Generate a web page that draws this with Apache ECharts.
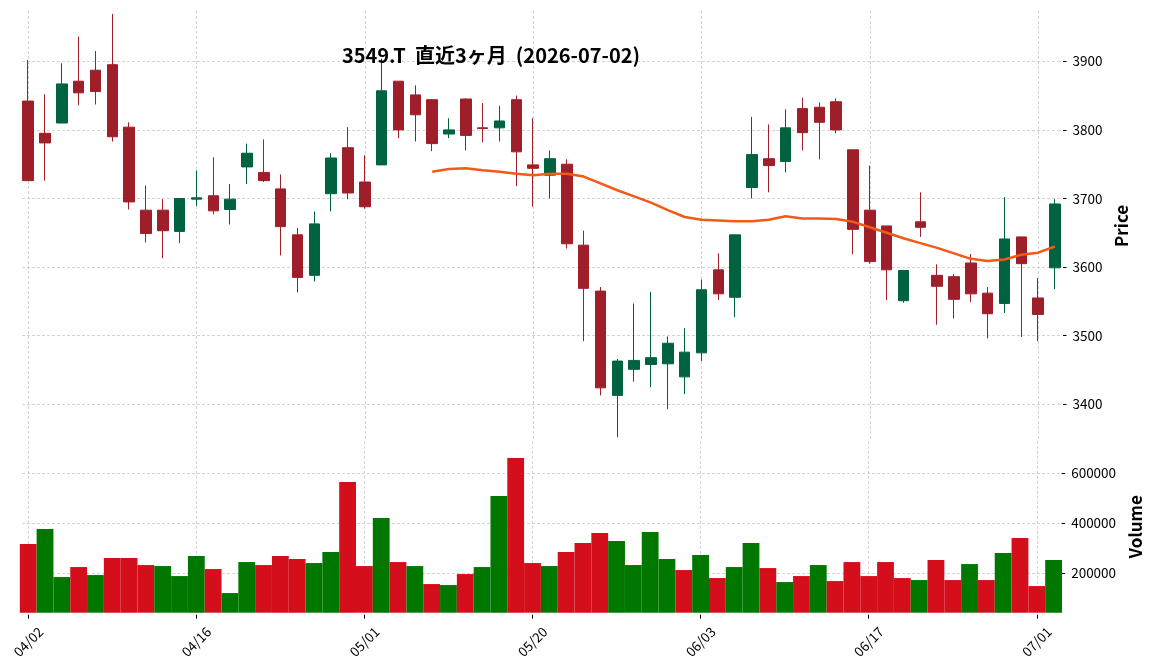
<!DOCTYPE html>
<html>
<head>
<meta charset="utf-8">
<script src="https://cdn.jsdelivr.net/npm/echarts@6/dist/echarts.min.js"></script>
<style>
  html, body { margin: 0; padding: 0; background: #fff; }
  #main { width: 1152px; height: 670px; }
</style>
</head>
<body>
<div id="main"></div>
<script>
const dates = ['04/02', '04/03', '04/06', '04/07', '04/08', '04/09', '04/10', '04/13', '04/14', '04/15',
  '04/16', '04/17', '04/20', '04/21', '04/22', '04/23', '04/24', '04/27', '04/28', '04/30',
  '05/01', '05/07', '05/08', '05/11', '05/12', '05/13', '05/14', '05/15', '05/18', '05/19',
  '05/20', '05/21', '05/22', '05/25', '05/26', '05/27', '05/28', '05/29', '06/01', '06/02',
  '06/03', '06/04', '06/05', '06/08', '06/09', '06/10', '06/11', '06/12', '06/15', '06/16',
  '06/17', '06/18', '06/19', '06/22', '06/23', '06/24', '06/25', '06/26', '06/29', '06/30',
  '07/01', '07/02']

const opens = [3842, 3795, 3810, 3871, 3887, 3895, 3804, 3683, 3683, 3652,
  3699, 3704, 3684, 3746, 3738, 3714, 3647, 3588, 3707, 3774,
  3724, 3749, 3871, 3851, 3844, 3794, 3845, 3803, 3803, 3844,
  3749, 3734, 3750, 3632, 3565, 3413, 3451, 3458, 3459, 3440,
  3475, 3596, 3556, 3716, 3758, 3754, 3831, 3833, 3841, 3771,
  3683, 3660, 3551, 3666, 3588, 3586, 3606, 3562, 3547, 3644,
  3555, 3599]
const closes = [3726, 3781, 3867, 3854, 3856, 3790, 3695, 3649, 3653, 3700,
  3701, 3682, 3699, 3766, 3726, 3659, 3585, 3663, 3759, 3708,
  3688, 3857, 3800, 3822, 3780, 3800, 3792, 3802, 3813, 3768,
  3744, 3758, 3634, 3569, 3424, 3463, 3464, 3468, 3489, 3476,
  3567, 3561, 3647, 3764, 3748, 3803, 3796, 3811, 3800, 3655,
  3608, 3596, 3595, 3658, 3572, 3553, 3561, 3532, 3641, 3605,
  3531, 3692]
const lows = [3726, 3726, 3810, 3836, 3837, 3783, 3684, 3636, 3613, 3635,
  3689, 3677, 3662, 3721, 3724, 3617, 3563, 3579, 3681, 3699,
  3685, 3749, 3788, 3783, 3769, 3788, 3770, 3782, 3783, 3718,
  3688, 3700, 3627, 3492, 3413, 3352, 3433, 3425, 3393, 3415,
  3463, 3552, 3527, 3700, 3709, 3738, 3770, 3757, 3795, 3619,
  3605, 3552, 3548, 3644, 3516, 3525, 3549, 3496, 3533, 3498,
  3492, 3568]
const highs = [3902, 3852, 3897, 3936, 3915, 3969, 3811, 3719, 3699, 3700,
  3741, 3760, 3721, 3780, 3786, 3735, 3657, 3681, 3766, 3804,
  3763, 3904, 3871, 3865, 3845, 3817, 3846, 3839, 3835, 3850,
  3817, 3770, 3757, 3653, 3571, 3466, 3547, 3564, 3499, 3511,
  3582, 3620, 3647, 3819, 3808, 3830, 3847, 3840, 3846, 3771,
  3748, 3660, 3596, 3709, 3604, 3590, 3619, 3571, 3702, 3644,
  3584, 3699]
const volumes = [317000, 377000, 185000, 225000, 193000, 261000, 261000, 233000, 229000, 189000,
  269000, 217000, 121000, 245000, 233000, 269000, 257000, 241000, 285000, 565000,
  229000, 421000, 245000, 229000, 157000, 153000, 197000, 225000, 509000, 661000,
  241000, 229000, 285000, 321000, 361000, 329000, 233000, 365000, 257000, 213000,
  273000, 181000, 225000, 321000, 221000, 165000, 189000, 233000, 169000, 245000,
  189000, 245000, 181000, 173000, 253000, 173000, 237000, 173000, 281000, 341000,
  149000, 253000]
// 25-day moving average, starts on day 25
const ma25 = [null, null, null, null, null, null, null, null, null, null,
  null, null, null, null, null, null, null, null, null, null,
  null, null, null, null, 3739, 3743, 3744, 3741, 3739, 3736,
  3734, 3736, 3736, 3732, 3722, 3712, 3703, 3694, 3683, 3673,
  3669, 3668, 3667, 3667, 3669, 3674, 3671, 3671, 3670, 3666,
  3658, 3650, 3642, 3635, 3628, 3620, 3612, 3609, 3611, 3618,
  3621, 3630]

const xTicks = [0, 10, 20, 30, 40, 50, 60]
const priceTicks = [3400, 3500, 3600, 3700, 3800, 3900]
const volumeTicks = [200000, 400000, 600000]

const font = 'Noto Sans CJK JP'
const upColor = '#006340'
const downColor = '#9e1f2a'
const volUp = '#007800'
const volDown = '#d40f1b'

const gridLine = { show: true, lineStyle: { color: '#c8c8c8', type: [3, 2], width: 0.8 } }
const noAxisLine = { show: false, onZero: false }
const tickLabel = { margin: 9.5, fontSize: 13.5, color: '#000', fontFamily: font, formatter: v => String(v) }
const axisName = { fontSize: 17, fontWeight: 'bold', color: '#000', fontFamily: font }

const candles = opens.map((o, i) => [i, o, closes[i], lows[i], highs[i]])
const maLine = ma25.map((v, i) => [i, v]).filter(d => d[1] !== null)
const volBars = volumes.map((v, i) => {
  const prev = i === 0 ? opens[0] : closes[i - 1]
  return { value: [i, v], itemStyle: { color: closes[i] >= prev ? volUp : volDown } }
})

const chart = echarts.init(document.getElementById('main'))
chart.setOption({
  animation: false,
  backgroundColor: '#fff',
  textStyle: { fontFamily: font },
  title: {
    text: '3549.T  直近3ヶ月  (2026-07-02)',
    left: 486,
    top: 40,
    textAlign: 'center',
    textStyle: { fontFamily: font, fontSize: 20, fontWeight: 'bold', color: '#000' }
  },
  grid: [
    { left: 22, right: 91, top: 11, height: 429.8 },
    { left: 22, right: 91, top: 440.8, bottom: 57.3 }
  ],
  xAxis: [
    {
      type: 'value', gridIndex: 0, min: -0.37, max: 61.36,
      axisLine: noAxisLine,
      axisTick: { show: false, customValues: xTicks },
      axisLabel: { show: false, customValues: xTicks },
      splitLine: gridLine
    },
    {
      type: 'value', gridIndex: 1, min: -0.37, max: 61.36, offset: 2,
      axisLine: noAxisLine,
      axisTick: { show: true, length: 4, customValues: xTicks, lineStyle: { color: '#000', width: 1 } },
      axisLabel: {
        customValues: xTicks,
        formatter: v => dates[v],
        rotate: 45,
        align: 'center',
        verticalAlign: 'middle',
        margin: 27,
        fontSize: 13.5,
        color: '#000',
        fontFamily: font
      },
      splitLine: gridLine
    }
  ],
  yAxis: [
    {
      type: 'value', gridIndex: 0, position: 'right', min: 3346.8, max: 3973.3, offset: 2,
      axisLine: noAxisLine,
      axisTick: { show: true, length: 3.5, customValues: priceTicks, lineStyle: { color: '#000', width: 1 } },
      axisLabel: Object.assign({ customValues: priceTicks }, tickLabel),
      splitLine: gridLine,
      name: 'Price',
      nameLocation: 'middle',
      nameRotate: 90,
      nameGap: 34,
      nameTextStyle: axisName
    },
    {
      type: 'value', gridIndex: 1, position: 'right', min: 42400, max: 730000, offset: 2,
      axisLine: noAxisLine,
      axisTick: { show: true, length: 3.5, customValues: volumeTicks, lineStyle: { color: '#000', width: 1 } },
      axisLabel: Object.assign({ customValues: volumeTicks }, tickLabel),
      splitLine: gridLine,
      name: 'Volume',
      nameLocation: 'middle',
      nameRotate: 90,
      nameGap: 52,
      nameTextStyle: axisName
    }
  ],
  series: [
    {
      type: 'candlestick',
      xAxisIndex: 0,
      yAxisIndex: 0,
      data: candles,
      encode: { x: 0, y: [1, 2, 3, 4] },
      barWidth: 11,
      itemStyle: {
        color: upColor,
        color0: downColor,
        borderColor: upColor,
        borderColor0: downColor,
        borderWidth: 1
      }
    },
    {
      type: 'line',
      xAxisIndex: 0,
      yAxisIndex: 0,
      data: maLine,
      symbol: 'none',
      lineStyle: { color: '#f25a17', width: 2.5 }
    },
    {
      type: 'bar',
      xAxisIndex: 1,
      yAxisIndex: 1,
      data: volBars,
      barWidth: '100%'
    }
  ]
})
</script>
</body>
</html>
